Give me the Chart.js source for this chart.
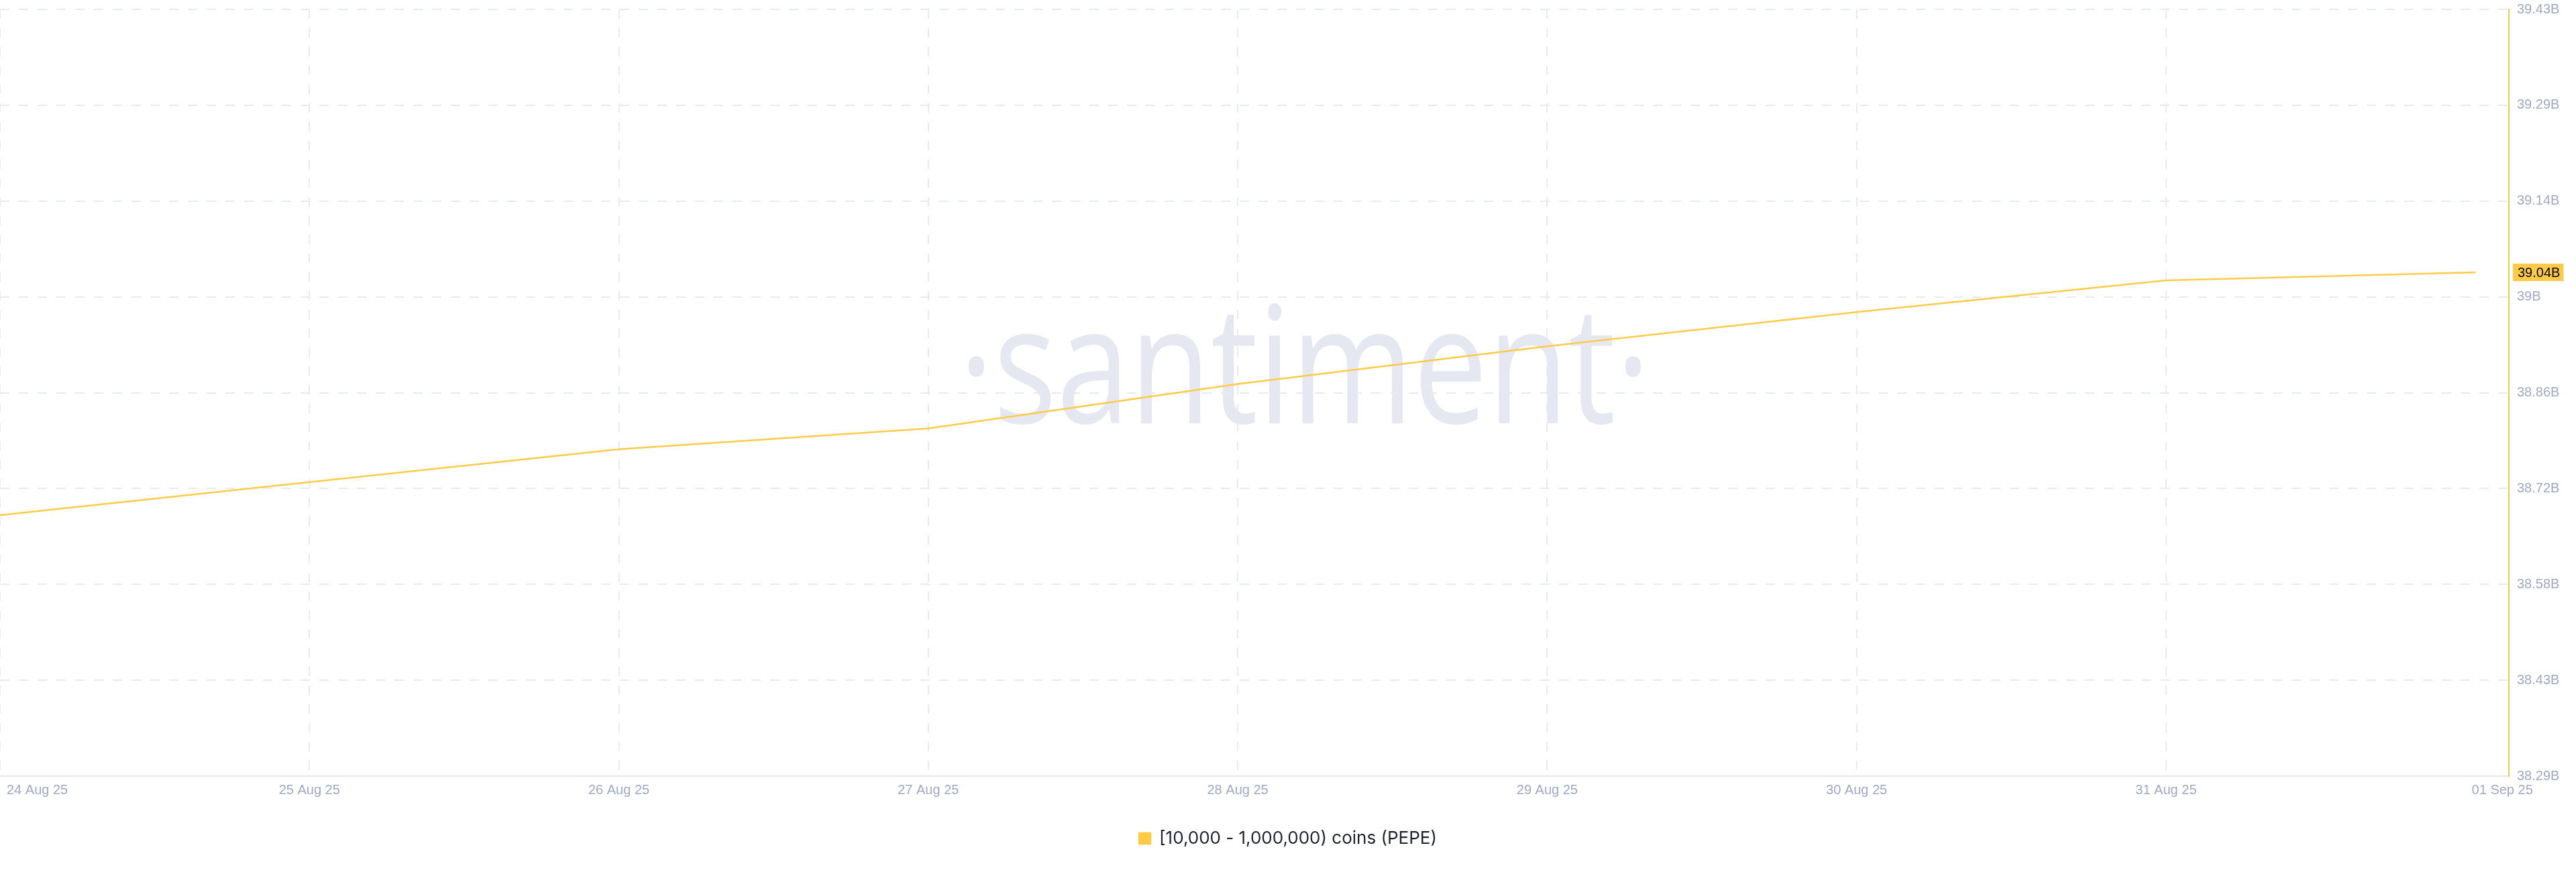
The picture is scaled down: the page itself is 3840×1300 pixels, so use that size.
<!DOCTYPE html>
<html>
<head>
<meta charset="utf-8">
<script src="https://cdn.jsdelivr.net/npm/chart.js@4/dist/chart.umd.min.js"></script>
<style>
  html, body { margin: 0; padding: 0; background: #ffffff; }
  #wrap { width: 3840px; height: 1300px; position: relative; }
</style>
</head>
<body>
<div id="wrap"><canvas id="c" width="3840" height="1300"></canvas></div>
<script>
// ---- data ----
const dayIndex = [0, 1, 2, 3, 4, 5, 6, 7, 8];
const xTickLabels = ['24 Aug 25', '25 Aug 25', '26 Aug 25', '27 Aug 25', '28 Aug 25', '29 Aug 25', '30 Aug 25', '31 Aug 25', '01 Sep 25'];
const supplyBillions = [38.678, 38.727, 38.776, 38.807, 38.873, 38.929, 38.980, 39.027, 39.039];
const yTickValues = [38.29, 38.4325, 38.575, 38.7175, 38.86, 39.0025, 39.145, 39.2875, 39.43];
const yTickLabels = ['38.29B', '38.43B', '38.58B', '38.72B', '38.86B', '39B', '39.14B', '39.29B', '39.43B'];
const seriesLabel = '[10,000 - 1,000,000) coins (PEPE)';
const lastValueLabel = '39.04B';
const watermarkText = '\u00B7santiment\u00B7';

// ---- style ----
const YELLOW = '#ffcb47';
const GRID = '#e8eaf2';
const AXIS_TEXT = '#9faac4';
const AXIS_FONT = "'Liberation Sans', Arial, sans-serif";

const watermarkPlugin = {
  id: 'watermark',
  beforeDraw(chart) {
    const a = chart.chartArea, ctx = chart.ctx;
    ctx.save();
    ctx.fillStyle = '#e6e8f1';
    ctx.font = "243px 'Open Sans', sans-serif";
    ctx.textAlign = 'center';
    ctx.textBaseline = 'alphabetic';
    ctx.translate(a.left + a.width * 0.52, a.top + a.height * 0.54);
    ctx.scale(0.81, 1);
    ctx.fillText(watermarkText, 0, 0);
    ctx.restore();
  }
};

const labelsPlugin = {
  id: 'customLabels',
  afterDraw(chart) {
    const ctx = chart.ctx, a = chart.chartArea;
    const xs = chart.scales.x, ys = chart.scales.y;
    ctx.save();
    // x tick labels
    ctx.font = '20px ' + AXIS_FONT;
    ctx.fillStyle = AXIS_TEXT;
    ctx.textBaseline = 'middle';
    const ty = a.bottom + 21;
    dayIndex.forEach((d, i) => {
      const px = xs.getPixelForValue(d);
      if (i === 0) { ctx.textAlign = 'left'; ctx.fillText(xTickLabels[i], px + 10, ty); }
      else if (i === dayIndex.length - 1) { ctx.textAlign = 'center'; ctx.fillText(xTickLabels[i], px + 40, ty); }
      else { ctx.textAlign = 'center'; ctx.fillText(xTickLabels[i], px, ty); }
    });
    // last value badge
    const last = supplyBillions[supplyBillions.length - 1];
    const py = ys.getPixelForValue(last);
    const w = ctx.measureText(lastValueLabel).width;
    ctx.fillStyle = YELLOW;
    ctx.fillRect(a.right + 6, py - 13, w + 12, 26);
    ctx.fillStyle = '#000000';
    ctx.textAlign = 'left';
    ctx.fillText(lastValueLabel, a.right + 13, py + 1);
    ctx.restore();
  }
};

new Chart(document.getElementById('c'), {
  type: 'line',
  data: {
    datasets: [{
      label: seriesLabel,
      data: dayIndex.map((d, i) => ({ x: d, y: supplyBillions[i] })),
      borderColor: YELLOW,
      backgroundColor: YELLOW,
      borderWidth: 2.5,
      pointRadius: 0,
      tension: 0,
      fill: false
    }]
  },
  options: {
    responsive: false,
    animation: false,
    devicePixelRatio: 1,
    layout: { padding: { top: 14, bottom: 27, left: 0, right: 0 } },
    plugins: {
      tooltip: { enabled: false },
      legend: {
        position: 'bottom',
        labels: {
          boxWidth: 17,
          boxHeight: 16,
          padding: 10,
          color: '#1f2233',
          font: { family: "Inter, 'Open Sans', sans-serif", size: 26 }
        }
      }
    },
    scales: {
      x: {
        type: 'linear',
        min: 0,
        max: 8.108,
        afterBuildTicks: (s) => { s.ticks = dayIndex.map(v => ({ value: v })); },
        afterFit: (s) => { s.height = 70; s.paddingLeft = 0; s.paddingRight = 0; },
        ticks: { display: false },
        grid: {
          color: (c) => (c.tick && c.tick.value === dayIndex[dayIndex.length - 1]) ? 'rgba(0,0,0,0)' : GRID,
          lineWidth: 2,
          drawTicks: false
        },
        border: { color: '#e2e6ef', width: 2, dash: [14, 14] }
      },
      y: {
        position: 'right',
        min: yTickValues[0],
        max: yTickValues[yTickValues.length - 1],
        afterBuildTicks: (s) => { s.ticks = yTickValues.map(v => ({ value: v })); },
        afterFit: (s) => { s.width = 100; s.paddingTop = 0; s.paddingBottom = 0; },
        ticks: {
          callback: (v, i) => yTickLabels[i],
          color: AXIS_TEXT,
          font: { family: AXIS_FONT, size: 20 },
          padding: 12,
          autoSkip: false
        },
        grid: { color: GRID, lineWidth: 2, drawTicks: false },
        border: { color: YELLOW, width: 2, dash: [14, 14] }
      }
    }
  },
  plugins: [watermarkPlugin, labelsPlugin]
});
</script>
</body>
</html>
